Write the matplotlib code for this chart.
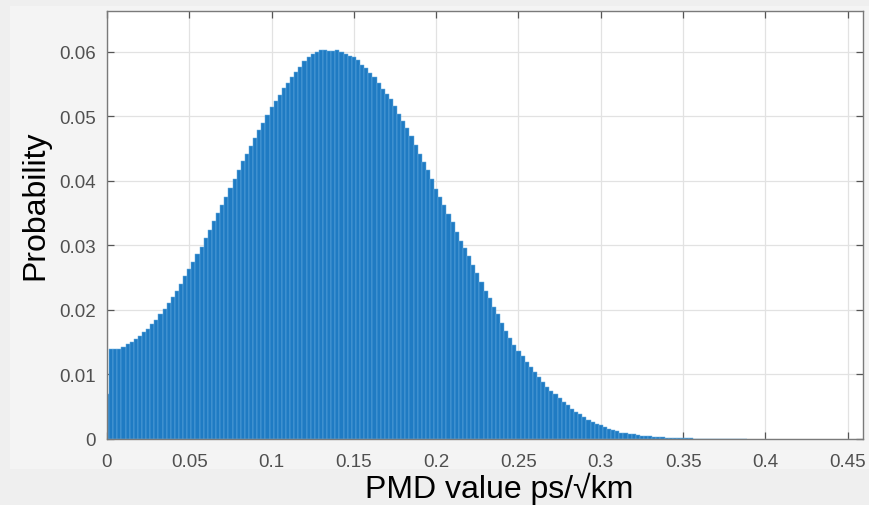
"""PMD value histogram (MATLAB-style probability histogram)."""
import numpy as np
import matplotlib
matplotlib.use("Agg")
import matplotlib.pyplot as plt
from matplotlib.patches import Rectangle

# ------------------------------------------------------------------ data
BIN_W = 0.0025  # bin width, bins centred on multiples of BIN_W

prob_rise = [
    0.0070, 0.0139, 0.0139, 0.0140, 0.0143, 0.0147, 0.0151, 0.0155, 0.0159, 0.0165,
    0.0171, 0.0178, 0.0185, 0.0193, 0.0201, 0.0210, 0.0220, 0.0230, 0.0240, 0.0252,
    0.0263, 0.0274, 0.0286, 0.0298, 0.0311, 0.0324, 0.0337, 0.0350, 0.0363, 0.0375,
    0.0389, 0.0403, 0.0416, 0.0430, 0.0442, 0.0454, 0.0466, 0.0479, 0.0490, 0.0502,
    0.0514, 0.0523, 0.0533, 0.0543, 0.0552, 0.0561, 0.0569, 0.0577,
]
prob_peak = [
    0.0585, 0.0591, 0.0596, 0.0600, 0.0603, 0.0602, 0.0601, 0.0601, 0.0602, 0.0600,
    0.0597, 0.0594, 0.0591, 0.0587, 0.0580, 0.0574, 0.0567, 0.0560, 0.0551, 0.0542,
    0.0535, 0.0526, 0.0516, 0.0504, 0.0492, 0.0481, 0.0469, 0.0456, 0.0441, 0.0429,
    0.0417, 0.0402, 0.0388, 0.0375, 0.0362, 0.0349, 0.0336, 0.0321, 0.0307, 0.0296,
    0.0283, 0.0270, 0.0257,
]
prob_tail = [
    0.0243, 0.0230, 0.0218, 0.0205, 0.0194, 0.0180, 0.0168, 0.0157, 0.0146, 0.0137,
    0.0129, 0.0120, 0.0112, 0.0104, 0.0096, 0.0088, 0.0081, 0.0075, 0.0069, 0.0063,
    0.0057, 0.0052, 0.0047, 0.0042, 0.0038, 0.0034, 0.0030, 0.0027, 0.0024, 0.0021,
    0.0018, 0.0016, 0.0014, 0.0012, 0.0010, 0.0009, 0.0008, 0.0007, 0.0006, 0.0005,
    0.00045, 0.0004, 0.00035, 0.0003, 0.00025, 0.0002, 0.00017, 0.00014, 0.00012, 0.0001,
    0.00009, 0.00008, 0.00007, 0.00006, 0.00005, 0.00004, 0.00004, 0.00003, 0.00003, 0.00002,
    0.00002, 0.00002, 0.00001, 0.00001, 0.00001,
]
probability = np.array(prob_rise + prob_peak + prob_tail)
centers = np.arange(len(probability)) * BIN_W

x_ticks = [0, 0.05, 0.1, 0.15, 0.2, 0.25, 0.3, 0.35, 0.4, 0.45]
x_ticklabels = ["0", "0.05", "0.1", "0.15", "0.2", "0.25", "0.3", "0.35", "0.4", "0.45"]
y_ticks = [0, 0.01, 0.02, 0.03, 0.04, 0.05, 0.06]
y_ticklabels = ["0", "0.01", "0.02", "0.03", "0.04", "0.05", "0.06"]

# ----------------------------------------------------------------- style
plt.rcParams["font.family"] = ["Liberation Sans", "DejaVu Sans"]
BG = "#efefef"
PANEL = "#f4f4f4"
TICK_INK = "#505050"

fig = plt.figure(figsize=(8.7, 5.06), dpi=100, facecolor=BG)
fig.patches.append(Rectangle((10 / 870, 36 / 506), 1 - 10 / 870, 1 - 43 / 506,
                             transform=fig.transFigure, color=PANEL, lw=0, zorder=-5))
ax = fig.add_axes([107 / 870, 66 / 506, 756 / 870, 428 / 506], zorder=1)
ax.set_facecolor("white")

ax.bar(centers, probability, width=BIN_W, align="center",
       color="#1f7bc3", edgecolor="#6aaee0", linewidth=0.35, zorder=2)

ax.set_xlim(0, 0.4593)
ax.set_ylim(0, 0.0663)
ax.set_xticks(x_ticks)
ax.set_xticklabels(x_ticklabels)
ax.set_yticks(y_ticks)
ax.set_yticklabels(y_ticklabels)
ax.grid(True, color="#e2e2e2", lw=0.9, zorder=0)
ax.set_axisbelow(True)
ax.tick_params(direction="in", length=5, width=0.9, colors="#555555",
               labelcolor=TICK_INK, labelsize=13.5, top=True, right=True)
ax.tick_params(axis="x", pad=10)
ax.tick_params(axis="y", pad=8)
for s in ax.spines.values():
    s.set_color("#7a7a7a")
    s.set_linewidth(1.0)

fig.text(499 / 870, 1 - 489 / 506, "PMD value ps/\u221akm", fontsize=23,
         ha="center", va="center", color="black")
fig.text(35 / 870, 1 - 205 / 506, "Probability", fontsize=23, rotation=90,
         ha="center", va="center", color="black")

fig.savefig("out.png", dpi=100, facecolor=BG)
